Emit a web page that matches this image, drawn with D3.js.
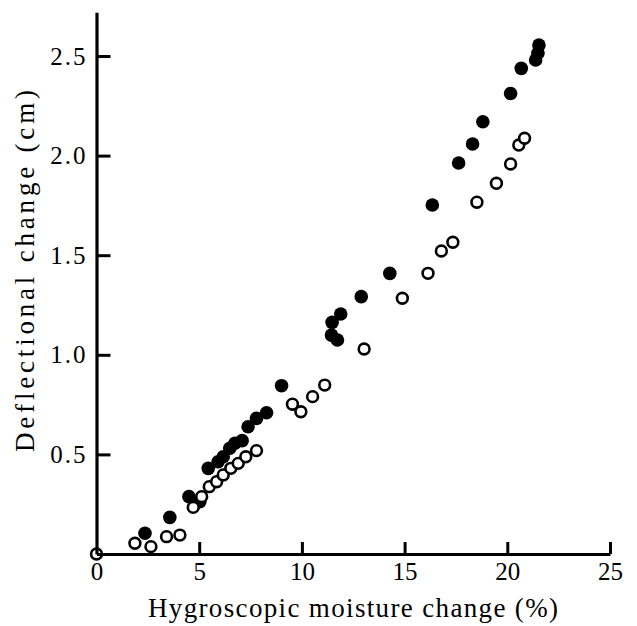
<!DOCTYPE html>
<html>
<head>
<meta charset="utf-8">
<script src="https://cdn.jsdelivr.net/npm/d3@7"></script>
<style>
  body { margin: 0; background: #fff; }
  svg { display: block; }
  text { font-family: "Liberation Serif", "DejaVu Serif", serif; fill: #000; }
</style>
</head>
<body>
<div id="canvas"></div>
<script>
// filled circles (series 1)
const filledX = [2.36, 3.57, 4.50, 5.03, 5.44, 5.92, 6.17, 6.49, 6.74, 7.09, 7.38, 7.79, 8.28, 9.01,
    11.44, 11.73, 11.47, 11.89, 12.89, 14.28, 16.35, 17.63, 18.31, 18.81, 20.16, 20.68, 21.38, 21.49, 21.54];
const filledY = [0.104, 0.184, 0.288, 0.263, 0.430, 0.463, 0.488, 0.531, 0.556, 0.569, 0.639, 0.681, 0.709, 0.845,
    1.099, 1.074, 1.163, 1.205, 1.292, 1.409, 1.752, 1.963, 2.058, 2.170, 2.312, 2.438, 2.480, 2.514, 2.555];

// open circles (series 2)
const openX = [0, 1.87, 2.65, 3.41, 4.06, 4.71, 5.12, 5.49, 5.85, 6.17, 6.54, 6.90, 7.27, 7.79,
    9.54, 9.95, 10.52, 11.11, 13.03, 14.89, 16.14, 16.79, 17.35, 18.52, 19.47, 20.16, 20.56, 20.84];
const openY = [0, 0.054, 0.037, 0.087, 0.095, 0.234, 0.288, 0.338, 0.363, 0.397, 0.430, 0.455, 0.488, 0.519,
    0.752, 0.714, 0.790, 0.848, 1.029, 1.284, 1.409, 1.521, 1.565, 1.766, 1.861, 1.958, 2.053, 2.087];

const xTicks = [0, 5, 10, 15, 20, 25];
const yTicks = [0.5, 1.0, 1.5, 2.0, 2.5];
const xTitle = "Hygroscopic moisture change (%)";
const yTitle = "Deflectional change (cm)";

const width = 637;
const height = 626;
const serif = "'Liberation Serif', 'DejaVu Serif', serif";

const svg = d3.select("#canvas").append("svg")
    .attr("width", width)
    .attr("height", height);

const x = d3.scaleLinear()
    .domain([0, 25])
    .range([96.5, 610]);

const y = d3.scaleLinear()
    .domain([0, 2.72])
    .range([554, 554 - 2.72 * 199.2]);

// points first, axes on top
const filled = d3.zip(filledX, filledY);
const open = d3.zip(openX, openY);

svg.append("g").selectAll("circle").data(filled).enter().append("circle")
    .attr("cx", d => x(d[0]))
    .attr("cy", d => y(d[1]))
    .attr("r", 6.8)
    .style("fill", "#000");

svg.append("g").selectAll("circle").data(open).enter().append("circle")
    .attr("cx", d => x(d[0]))
    .attr("cy", d => y(d[1]))
    .attr("r", 5.4)
    .style("fill", "#fff")
    .style("stroke", "#000")
    .style("stroke-width", 2.6);

const xAxis = svg.append("g")
    .attr("transform", `translate(0,${y(0)})`)
    .call(d3.axisBottom(x)
        .tickValues(xTicks)
        .tickFormat(d3.format("d"))
        .tickSizeInner(-12)
        .tickSizeOuter(0)
        .tickPadding(8));

xAxis.select(".domain").attr("stroke-width", 3.2);
xAxis.selectAll(".tick line").attr("stroke-width", 3)
    .attr("display", d => d === 0 ? "none" : null);
xAxis.selectAll(".tick text")
    .style("font-size", "25px")
    .style("font-family", serif);

const yAxis = svg.append("g")
    .attr("transform", `translate(${x(0)},0)`)
    .call(d3.axisLeft(y)
        .tickValues(yTicks)
        .tickFormat(d3.format(".1f"))
        .tickSizeInner(-14)
        .tickSizeOuter(0)
        .tickPadding(9));

yAxis.select(".domain").attr("stroke-width", 3.2);
yAxis.selectAll(".tick line").attr("stroke-width", 3);
yAxis.selectAll(".tick text")
    .style("font-size", "25px")
    .style("font-family", serif)
    .style("letter-spacing", "2px");

svg.append("text")
    .attr("x", 353)
    .attr("y", 617)
    .attr("text-anchor", "middle")
    .attr("textLength", 410)
    .attr("lengthAdjust", "spacing")
    .style("font-size", "27px")
    .text(xTitle);

svg.append("text")
    .attr("transform", "translate(34,271) rotate(-90)")
    .attr("text-anchor", "middle")
    .attr("textLength", 362)
    .attr("lengthAdjust", "spacing")
    .style("font-size", "27px")
    .text(yTitle);
</script>
</body>
</html>
